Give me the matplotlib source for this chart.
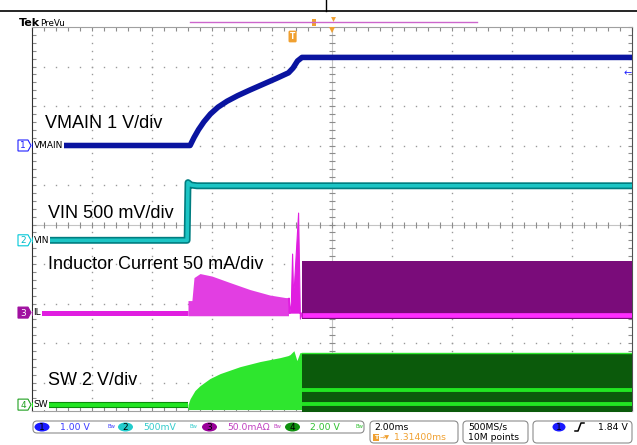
import numpy as np
import matplotlib.pyplot as plt
from matplotlib.patches import FancyBboxPatch, Polygon, Ellipse, Rectangle

# ---------------- scope setup ----------------
time_div = 2.0                      # ms/div
ch_names = ['VMAIN', 'VIN', 'IL', 'SW']
ch_scale = [1.0, 0.5, 50.0, 2.0]    # V/div, V/div, mA/div, V/div
ch_pos = [2.0, -0.4, -2.23, -4.56]  # ground marker, div from centre
trig_delay = 1.314                  # ms
trig_level = 1.84                   # V on ch1

# ---------------- CH1 VMAIN (V) ----------------
vmain_t = [-10.0, -4.73, -4.6, -4.45, -4.27, -4.05, -3.8, -3.5, -3.15, -2.75,
           -2.3, -1.85, -1.45, -1.3, -1.15, -1.0, 10.0]
vmain_v = [0.0, 0.0, 0.2, 0.4, 0.6, 0.8, 0.97, 1.12, 1.26, 1.40,
           1.55, 1.70, 1.84, 1.96, 2.14, 2.23, 2.23]

# ---------------- CH2 VIN (V) ----------------
vin_t = [-10.0, -4.83, -4.8, -4.7, -4.5, 10.0]
vin_v = [0.0, 0.0, 0.73, 0.70, 0.69, 0.69]

# ---------------- CH3 inductor current (mA) ----------------
il_t = [-10.0, -4.8]
il_v = [0.0, 0.0]
il_ramp_t = [-4.8, -4.67, -4.6, -4.4, -4.0, -3.4, -2.73, -2.07, -1.55, -1.45]
il_ramp_hi = [15.2, 15.2, 44.3, 49.4, 46.2, 38.0, 29.1, 22.2, 19.0, 19.0]
il_ramp_lo = -4.0
il_spike_t = [-1.45, -1.42, -1.37, -1.33, -1.3, -1.27, -1.13, -1.07, -1.0]
il_spike_v = [19.0, 0.0, 15.0, 74.7, 27.8, 34.0, 126.6, -7.6, 0.0]
il_run_t = [-1.0, 10.0]
il_run_hi = 65.2
il_run_lo = -7.6
il_run_floor = -2.5

# ---------------- CH4 switch node (V) ----------------
sw_t = [-10.0, -4.8]
sw_v = [0.0, 0.0]
sw_ramp_t = [-4.8, -4.73, -4.57, -4.4, -4.07, -3.73, -3.07, -2.4, -1.73, -1.47,
             -1.4, -1.27, -1.17, -1.07, -1.0]
sw_ramp_hi = [0.0, 0.30, 0.71, 0.96, 1.32, 1.57, 1.92, 2.18, 2.38, 2.48,
              2.53, 2.73, 2.23, 2.63, 2.63]
sw_ramp_lo = -0.25
sw_run_t = [-1.0, 10.0]
sw_run_hi = 2.63
sw_run_lo = -0.5
sw_run_bands = [0.05, 0.76]


def to_div(t, v, ch):
    return np.asarray(t) / time_div, ch_pos[ch] + np.asarray(v, dtype=float) / ch_scale[ch]


W, H = 637, 445
X0, X1, YT, YB = 32, 632, 27, 411
DW, DH = 60.0, 39.5
YMID = YT + 5 * DH

fig = plt.figure(figsize=(W / 100, H / 100), dpi=100)
ax = fig.add_axes([X0 / W, 1 - YB / H, (X1 - X0) / W, (YB - YT) / H])
y_lo = 5 - (YB - YT) / DH
ax.set_xlim(-5, 5)
ax.set_ylim(y_lo, 5)

# graticule
ys = np.arange(5, y_lo, -0.2)
xs = np.arange(-5, 5.001, 0.2)
for k in range(-4, 5):
    if k == 0:
        continue
    ax.plot(np.full(len(ys), k), ys, ls='none', marker='s', ms=1.0, mew=0,
            color='#9a9a9a', zorder=1)
    ax.plot(xs, np.full(len(xs), k), ls='none', marker='s', ms=1.0, mew=0,
            color='#9a9a9a', zorder=1)
ax.axhline(0, color='#c4c4c4', lw=0.8, zorder=1)
ax.axvline(0, color='#c4c4c4', lw=0.8, zorder=1)
ax.plot(xs, np.zeros(len(xs)), ls='none', marker='|', ms=4, mew=0.8, color='#8c8c8c', zorder=1)
ax.plot(np.zeros(len(ys)), ys, ls='none', marker='_', ms=4, mew=0.8, color='#8c8c8c', zorder=1)
ax.set_xticks(xs)
ax.set_yticks(ys)
ax.tick_params(direction='in', length=3, width=0.8, colors='#8c8c8c',
               top=True, right=True, labelbottom=False, labelleft=False)
ax.spines['left'].set_color('#303030')
ax.spines['right'].set_color('#505050')
ax.spines['top'].set_color('#a0a0a0')
ax.spines['bottom'].set_color('#a0a0a0')

# CH1
x, y = to_div(vmain_t, vmain_v, 0)
ax.plot(x, y, color='#0a14a0', lw=4, solid_joinstyle='round', zorder=4)

# CH2
x, y = to_div(vin_t, vin_v, 1)
ax.plot(x, y, color='#007d80', lw=5, zorder=4)
ax.plot(x, y, color='#1cc5c5', lw=2.6, zorder=4)

# CH3
x, y = to_div(il_t, il_v, 2)
ax.plot(x, y, color='#e01ee0', lw=3.6, solid_capstyle='butt', zorder=4)
x, hi = to_div(il_ramp_t, il_ramp_hi, 2)
_, lo = to_div(il_ramp_t, [il_ramp_lo] * len(il_ramp_t), 2)
ax.fill_between(x, lo, hi, color='#e23ee2', lw=0, zorder=4)
x, y = to_div(il_spike_t, il_spike_v, 2)
ax.fill_between(x, ch_pos[2], y, color='#e01ee0', lw=0.8, edgecolor='#e01ee0', zorder=4)
x, hi = to_div(il_run_t, [il_run_hi] * 2, 2)
_, lo = to_div(il_run_t, [il_run_lo] * 2, 2)
ax.fill_between(x, lo, hi, color='#7a0c7a', lw=0, zorder=4)
_, fl = to_div(il_run_t, [il_run_floor] * 2, 2)
ax.plot(x, fl, color='#ff2cff', lw=3.4, solid_capstyle='butt', zorder=5)

# CH4
x, y = to_div(sw_t, sw_v, 3)
ax.plot(x, y, color='#0c8c0c', lw=4.4, solid_capstyle='butt', zorder=4)
ax.plot(x, y, color='#22e622', lw=2.8, solid_capstyle='butt', zorder=4)
x, hi = to_div(sw_ramp_t, sw_ramp_hi, 3)
_, lo = to_div(sw_ramp_t, [sw_ramp_lo] * len(sw_ramp_t), 3)
ax.fill_between(x, lo, hi, color='#2ee62e', lw=0, zorder=4)
x, hi = to_div(sw_run_t, [sw_run_hi] * 2, 3)
_, lo = to_div(sw_run_t, [sw_run_lo] * 2, 3)
ax.fill_between(x, lo, hi, color='#0b5a0b', lw=0, zorder=4)
ax.plot(x, hi, color='#2ee62e', lw=1.0, zorder=5)
for b in sw_run_bands:
    _, yb = to_div(sw_run_t, [b] * 2, 3)
    ax.plot(x, yb, color='#22e622', lw=2.8, solid_capstyle='butt', zorder=5)

# trigger level arrow on right edge (ch1)
ax.text(4.93, ch_pos[0] + trig_level / ch_scale[0], '\u2190', color='#2020ff',
        fontsize=7, ha='center', va='center', clip_on=False, zorder=6)

# ---------------- overlay (labels, readouts) ----------------
ov = fig.add_axes([0, 0, 1, 1], zorder=5)
ov.set_xlim(0, W)
ov.set_ylim(H, 0)
ov.axis('off')

ov.plot([0, W], [11, 11], color='black', lw=1.2)
ov.plot([326, 326], [0, 11], color='black', lw=1.0)

ov.text(19, 26.5, 'Tek', fontsize=8, fontweight='bold', va='baseline')
ov.text(40, 26, 'PreVu', fontsize=6.3, va='baseline')
ov.plot([190, 477], [22, 22], color='#cc66cc', lw=1.0)
ov.add_patch(Rectangle((312, 19), 4, 7, fc='#f0a030', ec='none'))
ov.plot(333, 18.5, marker='v', ms=3.5, color='#f0a030', mew=0)

trig_px = X0 + (5 - trig_delay / time_div) * DW
ov.text(trig_px, 36.5, 'T', color='white', fontsize=5.5, fontweight='bold',
        ha='center', va='center',
        bbox=dict(boxstyle='round,pad=0.18', fc='#f0a030', ec='none'))
ov.plot(X0 + 5 * DW, 30, marker='v', ms=5, color='#f0a030', mew=0)

# channel markers
mk_edge = ['#2020ff', '#00c8d8', '#a010a0', '#20a020']
mk_fill = ['white', 'white', '#a010a0', 'white']
mk_num = ['#2020ff', '#00b8c8', 'white', '#20a020']
for i in range(4):
    yc = YMID - ch_pos[i] * DH
    pts = [(18, yc - 5.5), (28, yc - 5.5), (31, yc), (28, yc + 5.5), (18, yc + 5.5)]
    ov.add_patch(Polygon(pts, closed=True, fc=mk_fill[i], ec=mk_edge[i], lw=0.8))
    ov.text(23, yc + 0.5, str(i + 1), color=mk_num[i], fontsize=6.5,
            ha='center', va='center')
    ov.text(33.5, yc, ch_names[i], fontsize=6.5, ha='left', va='center',
            bbox=dict(fc='white', ec='none', pad=0.6))

# big annotations
big = dict(fontsize=13, family='Liberation Sans', va='baseline', color='black')
ov.text(45, 128, 'VMAIN 1 V/div', **big)
ov.text(47.5, 218, 'VIN 500 mV/div', **big)
ov.text(48, 269, 'Inductor Current 50 mA/div', **big)
ov.text(48.5, 385, 'SW 2 V/div', **big)

# status bar
box = dict(boxstyle='round,pad=0,rounding_size=4', fc='white', ec='#8c8c8c', lw=0.8)
ov.add_patch(FancyBboxPatch((33, 421), 331, 12, **box))
ov.add_patch(FancyBboxPatch((370, 421), 88, 22, **box))
ov.add_patch(FancyBboxPatch((463, 421), 65, 22, **box))
ov.add_patch(FancyBboxPatch((533, 421), 99, 22, **box))

st = dict(fontsize=6.7, va='center', ha='left')
ell_x = [42, 125.5, 209.5, 292.5]
ell_c = ['#1a1aff', '#22cccc', '#990099', '#109010']
txt_x = [60, 143, 227, 310]
txt_c = ['#3c3cff', '#33cccc', '#c040c0', '#30c030']
txt_s = ['1.00 V', '500mV', '50.0mA\u03a9', '2.00 V']
bw_x = [107, 190, 273, 356]
for i in range(4):
    ov.add_patch(Ellipse((ell_x[i], 427), 15, 9, fc=ell_c[i], ec='none'))
    ov.text(ell_x[i], 427.5, str(i + 1), color='black', fontsize=6.5, ha='center', va='center')
    ov.text(txt_x[i], 427.5, txt_s[i], color=txt_c[i], **st)
    ov.text(bw_x[i], 427, 'Bw', color=txt_c[i], fontsize=3.8, ha='left', va='center')

ov.text(374, 427.5, '2.00ms', color='black', **st)
ov.text(376, 437.5, 'T', color='white', fontsize=4.5, fontweight='bold', ha='center', va='center',
        bbox=dict(boxstyle='square,pad=0.15', fc='#f0a030', ec='none'))
ov.text(380, 437.5, '\u2192\u25bc', color='#f0a030', fontsize=4.5, ha='left', va='center')
ov.text(394, 437.5, '1.31400ms', color='#f0a030', **st)
ov.text(468, 427.5, '500MS/s', color='black', **st)
ov.text(468, 437.5, '10M points', color='black', **st)
ov.add_patch(Ellipse((559, 427), 13, 9, fc='#1a1aff', ec='none'))
ov.text(559, 427.5, '1', color='black', fontsize=6.5, ha='center', va='center')
ov.plot([575, 578, 581, 584], [431, 431, 423, 423], color='black', lw=1.1)
ov.text(598, 427.5, '1.84 V', color='black', **st)

fig.savefig('out.png', dpi=100)
